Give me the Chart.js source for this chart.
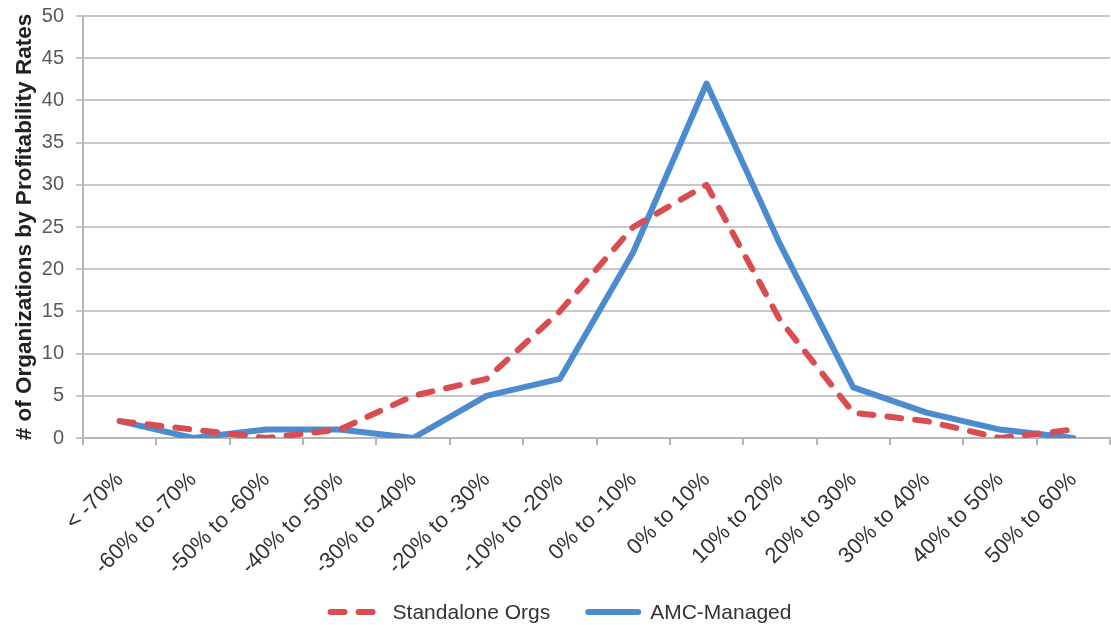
<!DOCTYPE html>
<html>
<head>
<meta charset="utf-8">
<script src="https://cdn.jsdelivr.net/npm/chart.js@4/dist/chart.umd.min.js"></script>
<style>
  html, body { margin: 0; padding: 0; background: #ffffff; }
  #wrap { width: 1111px; height: 625px; position: relative; }
</style>
</head>
<body>
<div id="wrap"><canvas id="chart" width="1111" height="625"></canvas></div>
<script>
// Profitability-rate buckets
const categories = [
  '< -70%', '-60% to -70%', '-50% to -60%', '-40% to -50%', '-30% to -40%',
  '-20% to -30%', '-10% to -20%', '0% to -10%', '0% to 10%', '10% to 20%',
  '20% to 30%', '30% to 40%', '40% to 50%', '50% to 60%'
];

// Number of organizations in each bucket
const standaloneOrgs = [2, 1, 0, 1, 5, 7, 15, 25, 30, 14, 3, 2, 0, 1];
const amcManaged     = [2, 0, 1, 1, 0, 5, 7, 22, 42, 23, 6, 3, 1, 0];

const seriesNames = ['Standalone Orgs', 'AMC-Managed'];
const yTitle = '# of Organizations by Profitability Rates';

const FONT = "'Liberation Sans', Arial, Helvetica, sans-serif";
const RED = 'rgb(217, 76, 79)';
const BLUE = 'rgb(76, 139, 206)';
const GRID = '#c8c8c8';
const AXIS = '#b5b5b5';

// Legend row under the axis: line sample followed by the series name
const bottomLegend = {
  id: 'bottomLegend',
  afterDraw(chart) {
    const ctx = chart.ctx;
    const sampleW = 56, textGap = 9, itemGap = 35, y = 612;
    ctx.save();
    ctx.font = '21px ' + FONT;
    const items = chart.data.datasets.map(ds => ({ ds, w: ctx.measureText(ds.label).width }));
    const total = items.reduce((s, it) => s + sampleW + textGap + it.w, 0) + itemGap * (items.length - 1);
    let x = chart.width / 2 + 4 - total / 2;
    items.forEach(({ ds, w }) => {
      ctx.beginPath();
      ctx.strokeStyle = ds.borderColor;
      ctx.lineWidth = ds.borderWidth;
      ctx.lineCap = ds.borderCapStyle || 'butt';
      ctx.setLineDash(ds.borderDash || []);
      ctx.moveTo(x + 3, y);
      ctx.lineTo(x + sampleW - 3, y);
      ctx.stroke();
      ctx.setLineDash([]);
      ctx.fillStyle = '#333333';
      ctx.textBaseline = 'middle';
      ctx.textAlign = 'left';
      ctx.fillText(ds.label, x + sampleW + textGap, y + 1);
      x += sampleW + textGap + w + itemGap;
    });
    ctx.restore();
  }
};

new Chart(document.getElementById('chart'), {
  type: 'line',
  data: {
    labels: categories,
    datasets: [
      {
        label: seriesNames[0],
        data: standaloneOrgs,
        borderColor: RED,
        backgroundColor: RED,
        borderWidth: 6,
        borderDash: [14, 14],
        borderCapStyle: 'round',
        borderJoinStyle: 'round',
        pointRadius: 0,
        tension: 0
      },
      {
        label: seriesNames[1],
        data: amcManaged,
        borderColor: BLUE,
        backgroundColor: BLUE,
        borderWidth: 6,
        borderCapStyle: 'round',
        borderJoinStyle: 'round',
        pointRadius: 0,
        tension: 0
      }
    ]
  },
  plugins: [bottomLegend],
  options: {
    responsive: false,
    animation: false,
    layout: { padding: { left: 0, right: 1, top: 16, bottom: 0 } },
    plugins: {
      legend: { display: false },
      tooltip: { enabled: false }
    },
    scales: {
      x: {
        offset: true,
        grid: {
          offset: true,
          drawOnChartArea: false,
          drawTicks: true,
          tickLength: 7,
          tickColor: AXIS,
          lineWidth: 2
        },
        border: { color: AXIS, width: 2 },
        ticks: {
          minRotation: 45,
          maxRotation: 45,
          autoSkip: false,
          color: '#333333',
          padding: 22,
          font: { family: FONT, size: 22 }
        },
        afterFit(scale) {
          scale.height = 187;
          scale.paddingLeft = 0;
          scale.paddingRight = 0;
        }
      },
      y: {
        min: 0,
        max: 50,
        ticks: {
          stepSize: 5,
          color: '#595959',
          padding: 12,
          font: { family: FONT, size: 20 }
        },
        grid: {
          color: GRID,
          lineWidth: 2,
          tickLength: 7,
          tickColor: GRID
        },
        border: { color: AXIS, width: 2 },
        title: {
          display: true,
          text: yTitle,
          color: '#222222',
          font: { family: FONT, size: 22.5, weight: 'bold' },
          padding: { top: 11, bottom: 0 }
        },
        afterFit(scale) {
          scale.width = 83;
          scale.paddingTop = 8;
          scale.paddingBottom = 8;
        }
      }
    }
  }
});
</script>
</body>
</html>
